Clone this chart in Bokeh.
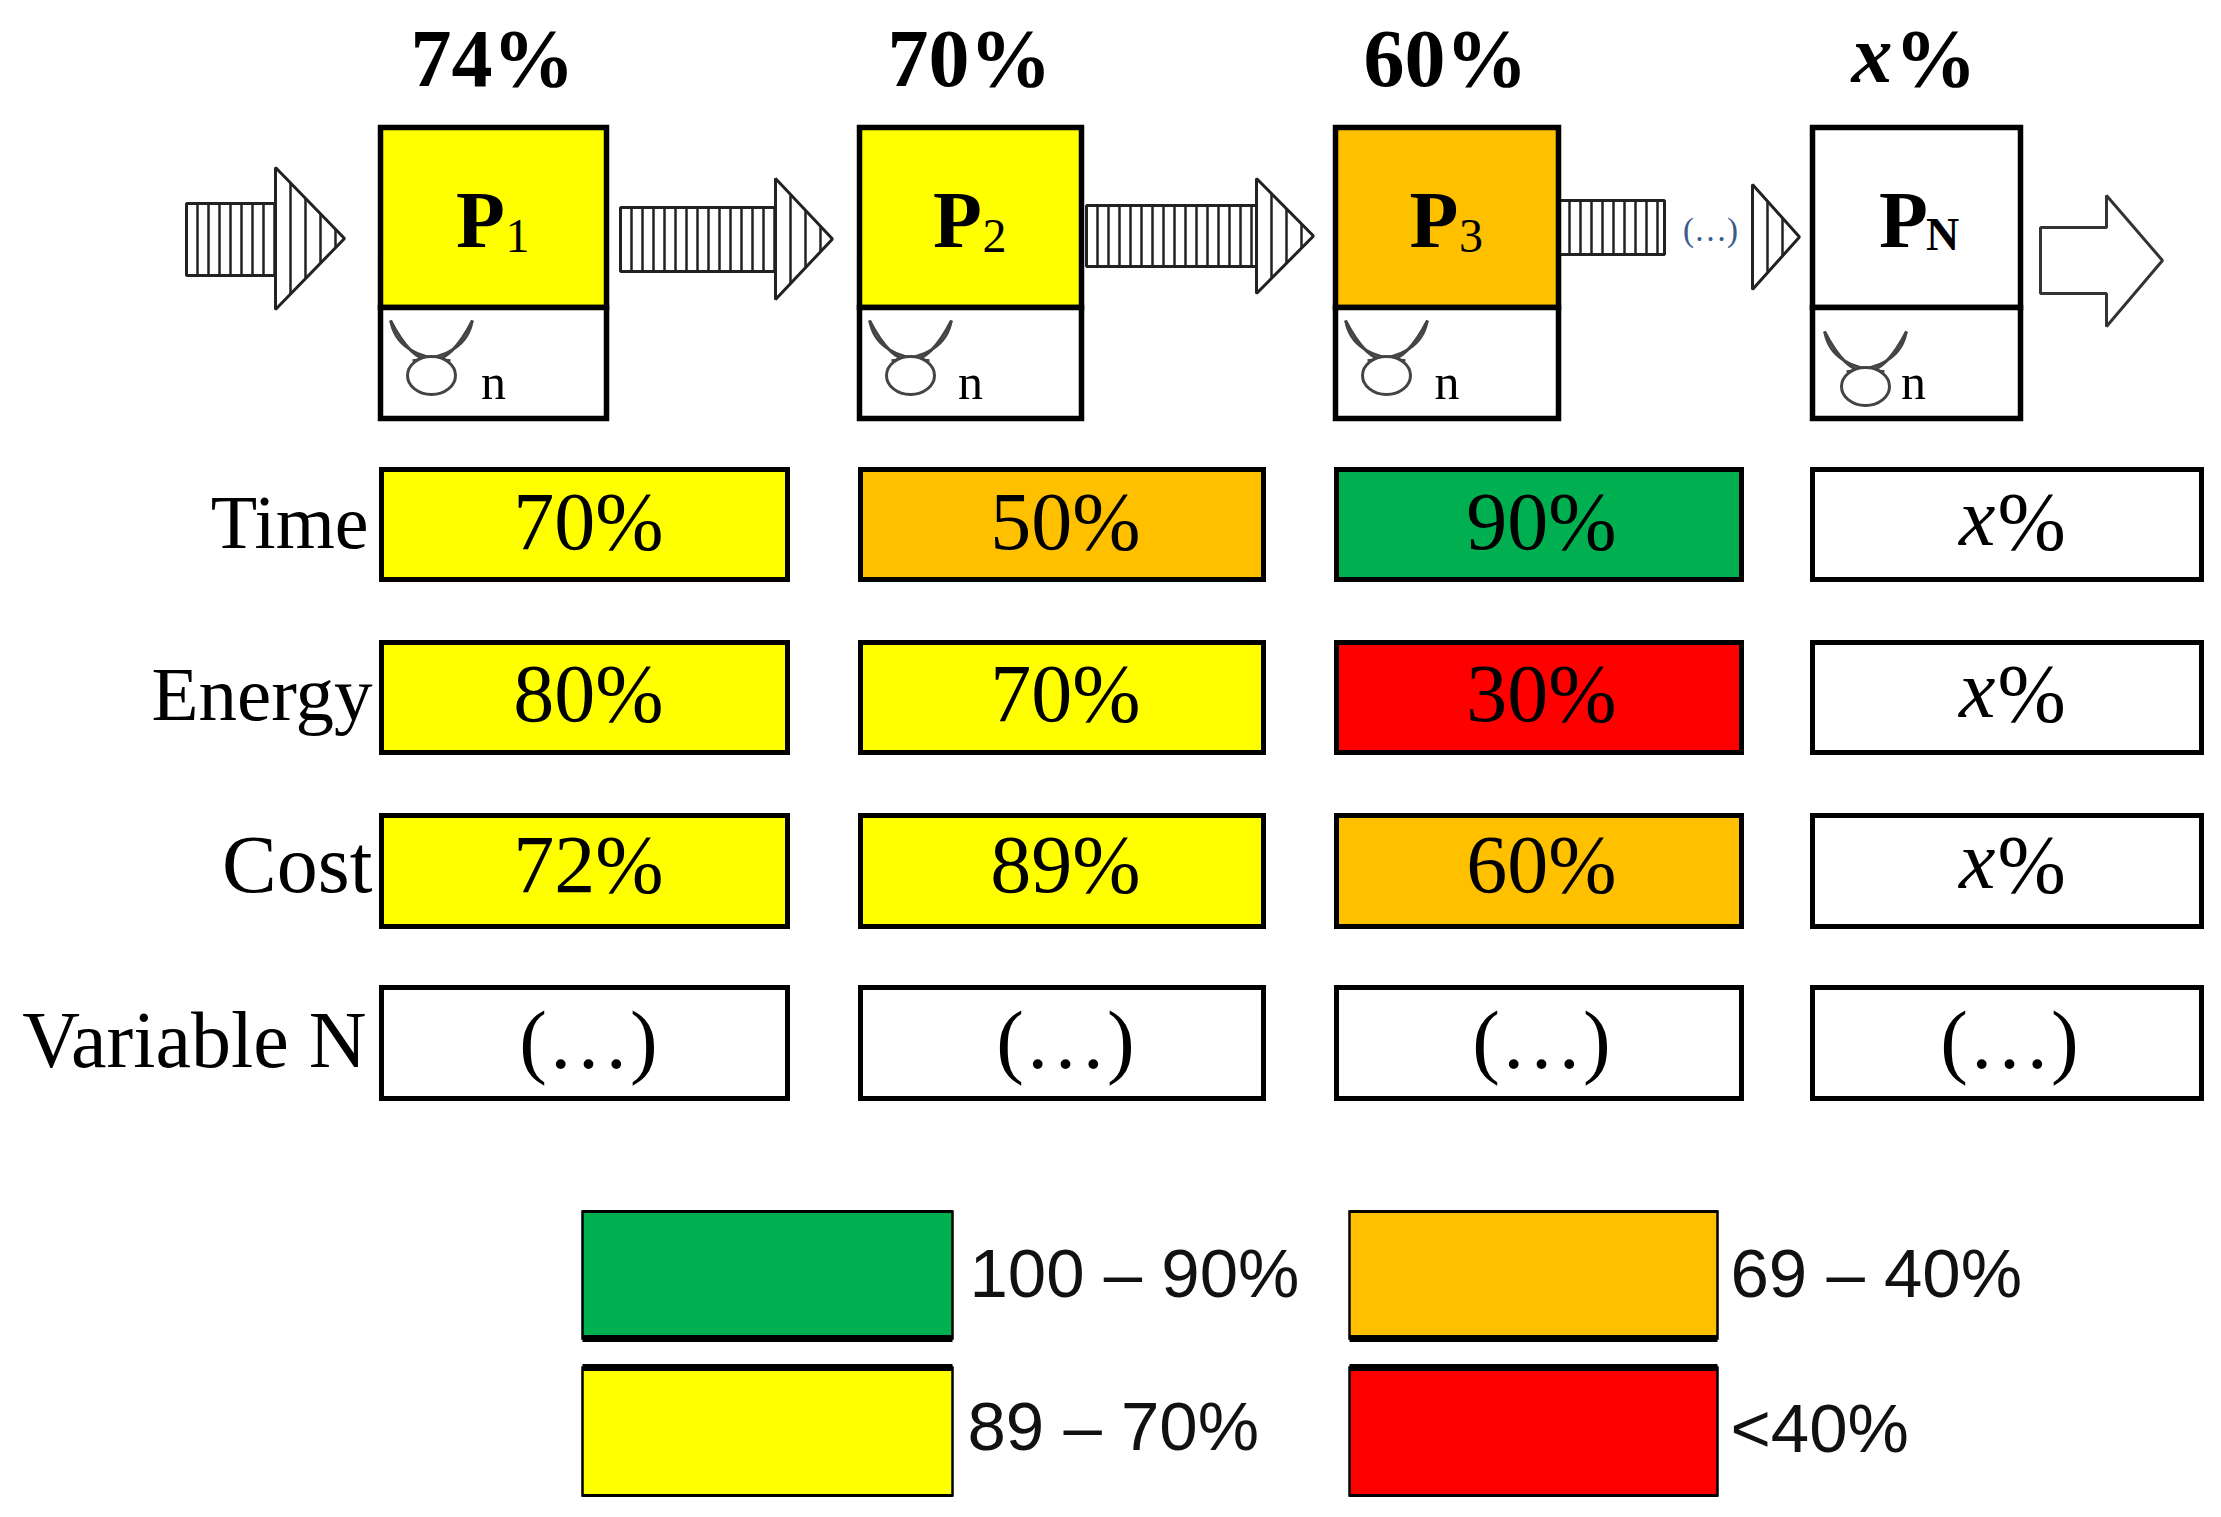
from bokeh.core.properties import value
from bokeh.embed import file_html
from bokeh.plotting import figure
from bokeh.resources import INLINE

# chart data
stages = ["1", "2", "3", "N"]
stage_scores = [74, 70, 60, None]
variables = ["Time", "Energy", "Cost", "Variable N"]
time_scores = [70, 50, 90, None]
energy_scores = [80, 70, 30, None]
cost_scores = [72, 89, 60, None]
variable_n_scores = ["(…)", "(…)", "(…)", "(…)"]
legend_labels = ["100 – 90%", "69 – 40%", "89 – 70%", "<40%"]
legend_colors = ["#00B050", "#FFC000", "#FFFF00", "#FF0000"]

# layout, in pixels of the reference picture
SERIF = value("Liberation Serif")
SANS = value("Liberation Sans")
box_lefts = [380, 859, 1335, 1812]
box_rights = [606, 1081, 1558, 2020]
row_lefts = [381, 860, 1336, 1812]
row_rights = [787, 1263, 1741, 2201]
row_tops = [469, 642, 815, 987]
row_bottoms = [579, 752, 926, 1098]


def band_color(score):
    if score is None:
        return "white"
    if score >= 90:
        return "#00B050"
    if score >= 70:
        return "#FFFF00"
    if score >= 40:
        return "#FFC000"
    return "#FF0000"


p = figure(width=2205, height=1501, x_range=(0, 2205), y_range=(1501, 0),
           output_backend="svg", toolbar_location=None, min_border=0)
p.axis.visible = False
p.grid.visible = False
p.outline_line_color = None


def label(x, y, text, size, font=SERIF, style="normal", align="center", color="black"):
    p.text(x=[x], y=[y], text=[text], text_font=font, text_font_size=f"{size}px", text_font_style=style,
           text_align=align, text_baseline="middle", text_color=color)


def percent(x, y, score, size, style="normal"):
    """Draw a score, an unknown one is shown as an italic x"""
    if score is None:
        x_style = "bold italic" if style == "bold" else "italic"
        offset = 20 if style == "bold" else 14
        label(x - offset, y - 4, "x", size, style=x_style, align="right")
        label(x - offset + 2, y, "%", size, style=style, align="left")
    else:
        label(x, y, f"{score}%", size, style=style)


def stripes(xs, top, bottom):
    p.multi_line(xs=[[x, x] for x in xs], ys=[[top(x), bottom(x)] for x in xs], line_color="#222222", line_width=2.5)


def shaft(left, right, top, bottom):
    p.quad(left=[left], right=[right], top=[top], bottom=[bottom], fill_color="white", line_color="#222222",
           line_width=3)
    stripes(list(range(left + 11, right, 11)), lambda x: top, lambda x: bottom)


def head(neck, tip, top, bottom):
    mid = (top + bottom) / 2
    p.patch(x=[neck, tip, neck], y=[top, mid, bottom], fill_color="white", line_color="#222222", line_width=3)
    half = (bottom - top) / 2

    def reach(x):
        return half * (tip - x) / (tip - neck)

    stripes(list(range(neck + 15, tip - 6, 15)), lambda x: mid - reach(x), lambda x: mid + reach(x))


def bull(x, top):
    """Small bull head icon, x is the left horn tip"""
    p.quadratic(x0=[x], y0=[top], x1=[x + 82], y1=[top], cx=[x + 41], cy=[top + 80], line_color="#444444",
                line_width=3)
    p.quadratic(x0=[x], y0=[top], x1=[x + 60], y1=[top + 40], cx=[x + 6], cy=[top + 36], line_color="#444444",
                line_width=2.5)
    p.quadratic(x0=[x + 82], y0=[top], x1=[x + 22], y1=[top + 40], cx=[x + 76], cy=[top + 36], line_color="#444444",
                line_width=2.5)
    p.ellipse(x=[x + 41], y=[top + 55], width=[48], height=[38], fill_color="white", line_color="#444444",
              line_width=3)


# process flow arrows
shaft(186, 275, 203, 275)
head(275, 344, 167, 309)
shaft(620, 775, 207, 271)
head(775, 832, 178, 299)
shaft(1086, 1256, 205, 266)
head(1256, 1313, 178, 293)
shaft(1558, 1664, 200, 254)
head(1752, 1799, 184, 289)
label(1710, 229, "(…)", 33, color="#3B5A8C")
p.patch(x=[2040, 2106, 2106, 2162, 2106, 2106, 2040], y=[227, 227, 195, 260, 326, 293, 293], fill_color="white",
        line_color="#333333", line_width=3)

# process boxes with their overall score
header_centers = [492, 969, 1445, 1912]
for i, stage in enumerate(stages):
    left, right = box_lefts[i], box_rights[i]
    p.quad(left=[left], right=[right], top=[127], bottom=[307], fill_color=band_color(stage_scores[i]),
           line_color="black", line_width=5.5, line_join="miter")
    p.quad(left=[left], right=[right], top=[307], bottom=[418], fill_color="white", line_color="black", line_width=5.5,
           line_join="miter")
    percent(header_centers[i], 58, stage_scores[i], 82, style="bold")
    p_x = left + (right - left) / 2 - 13
    label(p_x, 219, "P", 80, style="bold")
    if stage == "N":
        label(p_x + 39, 234, stage, 46, style="bold")
        bull(left + 12, 331)
        label(left + 101, 381, "n", 50)
    else:
        label(p_x + 37, 235, stage, 48)
        bull(left + 10, 320)
        label(left + (right - left) / 2, 381, "n", 50)

# score rows
value_centers = [588, 1065, 1541, 2009]
score_rows = [time_scores, energy_scores, cost_scores, variable_n_scores]
text_ys = [521, 693, 864, 1039]
name_rights = [368, 372, 372, 366]
name_sizes = [76, 77, 82, 80]
for r, name in enumerate(variables):
    label(name_rights[r], text_ys[r], name, name_sizes[r], align="right")
    for c, score in enumerate(score_rows[r]):
        is_text = isinstance(score, str)
        p.quad(left=[row_lefts[c]], right=[row_rights[c]], top=[row_tops[r]], bottom=[row_bottoms[r]],
               fill_color="white" if is_text else band_color(score), line_color="black", line_width=5,
               line_join="miter")
        if is_text:
            label(value_centers[c], text_ys[r], score, 83)
        else:
            percent(value_centers[c], text_ys[r], score, 82)

# colour key
key_lefts = [582, 1349, 582, 1349]
key_rights = [952, 1717, 952, 1717]
key_tops = [1211, 1211, 1367, 1367]
key_bottoms = [1338, 1338, 1495, 1495]
key_text_x = [969, 1730, 967, 1730]
key_text_y = [1273, 1273, 1426, 1428]
for i, text in enumerate(legend_labels):
    p.quad(left=[key_lefts[i]], right=[key_rights[i]], top=[key_tops[i]], bottom=[key_bottoms[i]],
           fill_color=legend_colors[i], line_color="black", line_width=2.5, line_join="miter")
    top_w, bottom_w = (3, 7) if i < 2 else (7, 3)
    p.segment(x0=[key_lefts[i]], y0=[key_tops[i]], x1=[key_rights[i]], y1=[key_tops[i]], line_color="black",
              line_width=top_w)
    p.segment(x0=[key_lefts[i]], y0=[key_bottoms[i]], x1=[key_rights[i]], y1=[key_bottoms[i]], line_color="black",
              line_width=bottom_w)
    label(key_text_x[i], key_text_y[i], text, 69, font=SANS, align="left", color="#111111")

open("out.html", "w").write(file_html(p, INLINE))
